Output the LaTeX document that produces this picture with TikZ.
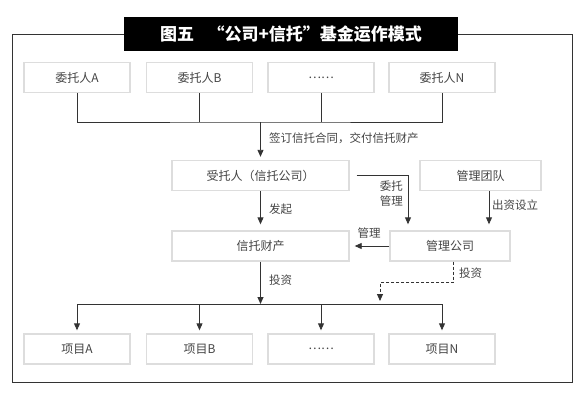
\documentclass[tikz,border=0pt]{standalone}
\usepackage{fontspec}
\setmainfont{Noto Sans CJK SC}
\usetikzlibrary{arrows.meta}
\definecolor{fmline}{HTML}{333333}
\definecolor{fmbox}{HTML}{DDDDDD}
\definecolor{fmtext}{HTML}{444444}

\begin{document}
\begin{tikzpicture}[x=1pt,y=-1pt,
  box/.style={draw=fmbox,line width=1.4pt,fill=white,minimum height=30pt,inner sep=0pt,text=fmtext,font=\fontsize{12}{13}\selectfont},
  lbl/.style={text=fmtext,font=\fontsize{11.5}{15}\selectfont,inner sep=0pt},
  lnk/.style={fmline,line width=0.9pt},
  arr/.style={lnk,-{Triangle[length=7pt,width=6pt]}}]
  \fill[white] (0,0) rectangle (582,402);
  \useasboundingbox (0,0) rectangle (582,402);
  \draw[lnk] (12,34) rectangle (572,382);
  \node[fill=black,text=white,font=\fontsize{17}{18}\selectfont\bfseries,minimum width=334pt,minimum height=34pt,inner sep=0pt] (title) at (291,34) {图五\hspace{0.8em}“公司+信托”基金运作模式};
  % entrusting parties and projects
  \foreach \n/\x/\wa/\xa in {a/77/委托人A/项目A,b/199.5/委托人B/项目B,c/321/……/……,n/442/委托人N/项目N}{
    \node[box,minimum width=106pt] (wt\n) at (\x,77.5) {\wa};
    \node[box,minimum width=106pt] (xm\n) at (\x,349) {\xa};
  }
  \node[box,minimum width=177pt] (sty) at (260.5,175.5) {受托人（信托公司）};
  \node[box,minimum width=121pt] (gltd) at (480.5,175.5) {管理团队};
  \node[box,minimum width=177pt] (xtcc) at (260.5,246) {信托财产};
  \node[box,minimum width=120pt] (glgs) at (450,246) {管理公司};
  % top joins
  \coordinate (qy) at (260.5,122);
  \draw[lnk] (wta.south) |- (qy) -| (wtn.south);
  \foreach \n in {b,c}{\draw[lnk] (wt\n.south) -- (wt\n.south |- qy);}
  \draw[arr,shorten >=3pt] (qy) -- (sty);
  \node[lbl,anchor=west] (lqy) at (269,138) {签订信托合同，交付信托财产};
  % middle
  \draw[arr,shorten >=6pt] (sty) -- (xtcc);
  \node[lbl,anchor=west] (lfq) at (269,209) {发起};
  \draw[arr,shorten >=6pt] ([xshift=7pt]sty.east) -| ([xshift=-42pt]glgs.north);
  \node[lbl,anchor=east,align=right] (lwt) at (403,194) {委托\\管理};
  \draw[arr,shorten >=6pt] ([xshift=8.5pt]gltd.south) -- ([xshift=8.5pt]gltd.south |- glgs.north);
  \node[lbl,anchor=west] (lcz) at (492,205) {出资设立};
  \draw[arr,shorten >=5pt] (glgs) -- (xtcc);
  \node[lbl] (lgl) at (369,233) {管理};
  % investment
  \coordinate (xy) at (260.5,304);
  \coordinate (tz) at (380,304);
  \draw[arr] (xtcc) -- (xy);
  \node[lbl,anchor=west] (ltz) at (269,280) {投资};
  \draw[lnk] (xma.north |- xy) -- (xmn.north |- xy);
  \foreach \n in {a,b,c,n}{\draw[arr,shorten >=3pt] (xm\n.north |- xy) -- (xm\n);}
  \draw[arr,densely dashed,shorten >=3pt] ([xshift=3pt]glgs.south) -- ++(0,21) -| (tz);
  \node[lbl,anchor=west] (ltz2) at (459,273) {投资};
\end{tikzpicture}
\end{document}
